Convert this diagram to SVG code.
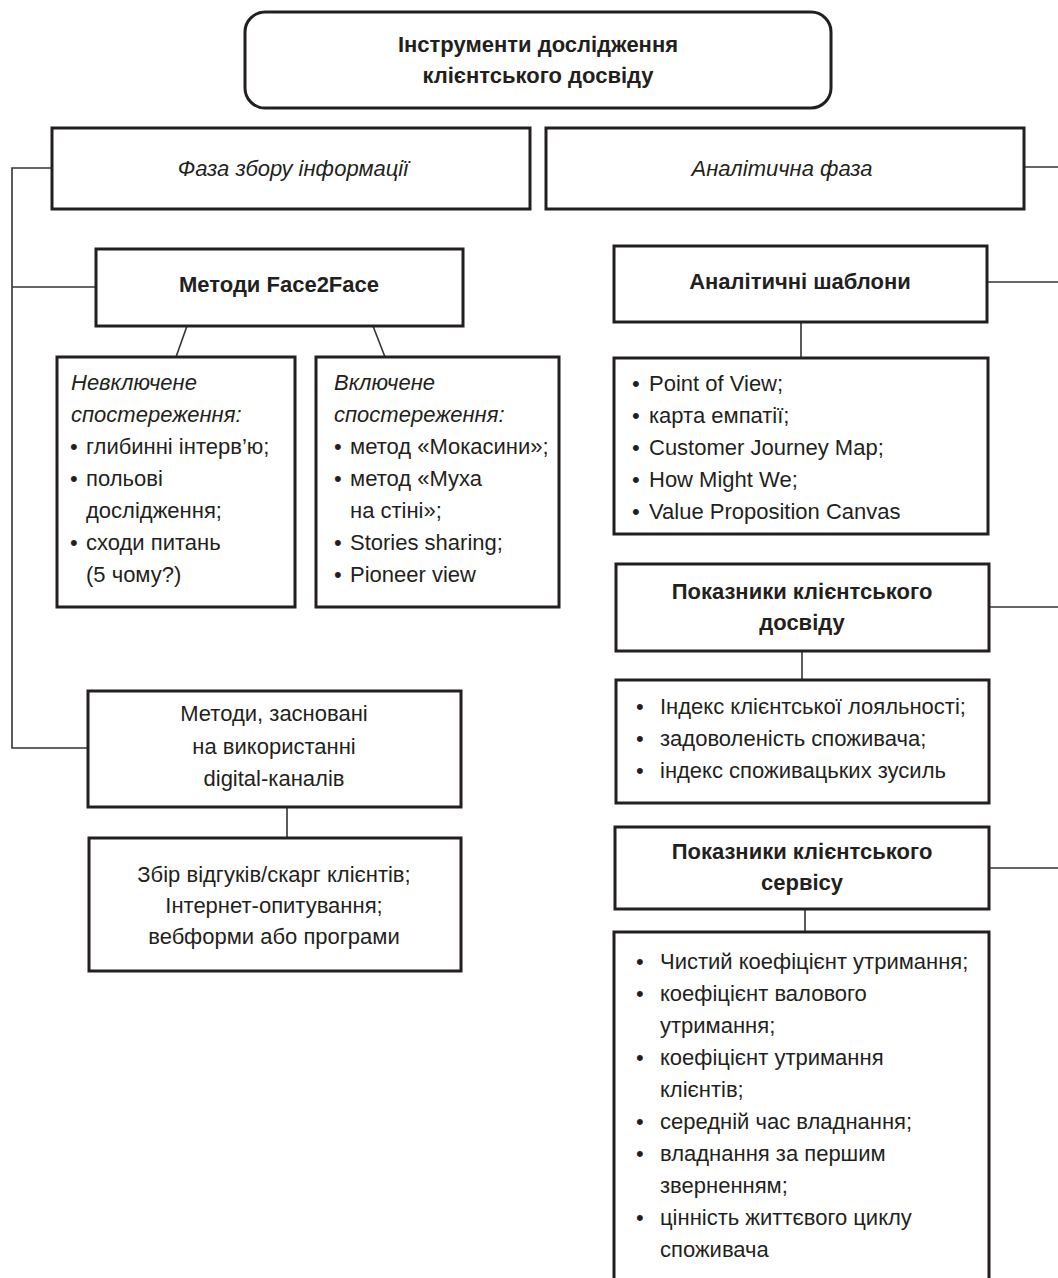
<svg xmlns="http://www.w3.org/2000/svg" width="1058" height="1278" viewBox="0 0 1058 1278">
<style>
.box{fill:#fff;stroke:#231f20;stroke-width:3}
.con{fill:none;stroke:#333;stroke-width:1.6}
text{font-family:"Liberation Sans",Arial,sans-serif;fill:#231f20}
.b{font-size:22px;font-weight:bold;text-anchor:middle}
.it{font-size:22px;font-style:italic}
.itc{font-size:22px;font-style:italic;text-anchor:middle}
.r{font-size:22px}
.rc{font-size:22px;text-anchor:middle}
</style>
<rect width="1058" height="1278" fill="#fff"/>
<g id="connectors">
<polyline class="con" points="52,168 12,168 12,748 88,748"/>
<line class="con" x1="12" y1="287" x2="96" y2="287"/>
<line class="con" x1="187" y1="326" x2="176" y2="357"/>
<line class="con" x1="373" y1="326" x2="385" y2="357"/>
<line class="con" x1="287" y1="807" x2="287" y2="838"/>
<line class="con" x1="1024" y1="167" x2="1058" y2="167"/>
<line class="con" x1="987" y1="282" x2="1058" y2="282"/>
<line class="con" x1="801" y1="322" x2="801" y2="358"/>
<line class="con" x1="989" y1="607" x2="1058" y2="607"/>
<line class="con" x1="802" y1="651" x2="802" y2="680"/>
<line class="con" x1="989" y1="868" x2="1058" y2="868"/>
<line class="con" x1="805" y1="909" x2="805" y2="932"/>
</g>
<g id="root">
<rect class="box" x="245" y="12" width="586" height="96" rx="20"/>
<text class="b" x="538" y="52">Інструменти дослідження</text>
<text class="b" x="538" y="83">клієнтського досвіду</text>
</g>
<g id="phase-collect">
<rect class="box" x="52" y="128" width="478" height="81"/>
<text class="itc" x="293" y="176">Фаза збору інформації</text>
</g>
<g id="phase-analytic">
<rect class="box" x="546" y="128" width="478" height="81"/>
<text class="itc" x="782" y="176">Аналітична фаза</text>
</g>
<g id="face2face">
<rect class="box" x="96" y="249" width="367" height="77"/>
<text class="b" x="279" y="292">Методи Face2Face</text>
</g>
<g id="non-participant">
<rect class="box" x="57" y="357" width="238" height="250"/>
<text class="it" x="71" y="390">Невключене</text>
<text class="it" x="71" y="422">спостереження:</text>
<text class="r" x="70" y="454">•</text><text class="r" x="86" y="454">глибинні інтерв’ю;</text>
<text class="r" x="70" y="486">•</text><text class="r" x="86" y="486">польові</text>
<text class="r" x="86" y="518">дослідження;</text>
<text class="r" x="70" y="550">•</text><text class="r" x="86" y="550">сходи питань</text>
<text class="r" x="86" y="582">(5 чому?)</text>
</g>
<g id="participant">
<rect class="box" x="316" y="357" width="243" height="250"/>
<text class="it" x="334" y="390">Включене</text>
<text class="it" x="334" y="422">спостереження:</text>
<text class="r" x="334" y="454">•</text><text class="r" x="350" y="454">метод «Мокасини»;</text>
<text class="r" x="334" y="486">•</text><text class="r" x="350" y="486">метод «Муха</text>
<text class="r" x="350" y="518">на стіні»;</text>
<text class="r" x="334" y="550">•</text><text class="r" x="350" y="550">Stories sharing;</text>
<text class="r" x="334" y="582">•</text><text class="r" x="350" y="582">Pioneer view</text>
</g>
<g id="digital">
<rect class="box" x="88" y="691" width="373" height="116"/>
<text class="rc" x="274" y="721">Методи, засновані</text>
<text class="rc" x="274" y="754">на використанні</text>
<text class="rc" x="274" y="786">digital-каналів</text>
</g>
<g id="digital-list">
<rect class="box" x="89" y="838" width="372" height="133"/>
<text class="rc" x="274" y="882">Збір відгуків/скарг клієнтів;</text>
<text class="rc" x="274" y="913">Інтернет-опитування;</text>
<text class="rc" x="274" y="944">вебформи або програми</text>
</g>
<g id="templates">
<rect class="box" x="614" y="246" width="373" height="76"/>
<text class="b" x="800" y="289">Аналітичні шаблони</text>
</g>
<g id="templates-list">
<rect class="box" x="614" y="358" width="374" height="176"/>
<text class="r" x="632" y="391">•</text><text class="r" x="649" y="391">Point of View;</text>
<text class="r" x="632" y="423">•</text><text class="r" x="649" y="423">карта емпатії;</text>
<text class="r" x="632" y="455">•</text><text class="r" x="649" y="455">Customer Journey Map;</text>
<text class="r" x="632" y="487">•</text><text class="r" x="649" y="487">How Might We;</text>
<text class="r" x="632" y="519">•</text><text class="r" x="649" y="519">Value Proposition Canvas</text>
</g>
<g id="cx-metrics">
<rect class="box" x="616" y="564" width="373" height="87"/>
<text class="b" x="802" y="599">Показники клієнтського</text>
<text class="b" x="802" y="630">досвіду</text>
</g>
<g id="cx-list">
<rect class="box" x="616" y="680" width="373" height="123"/>
<text class="r" x="636" y="714">•</text><text class="r" x="660" y="714">Індекс клієнтської лояльності;</text>
<text class="r" x="636" y="746">•</text><text class="r" x="660" y="746">задоволеність споживача;</text>
<text class="r" x="636" y="778">•</text><text class="r" x="660" y="778">індекс споживацьких зусиль</text>
</g>
<g id="service-metrics">
<rect class="box" x="615" y="827" width="374" height="82"/>
<text class="b" x="802" y="859">Показники клієнтського</text>
<text class="b" x="802" y="890">сервісу</text>
</g>
<g id="service-list">
<path class="box" d="M614,1280 L614,932 L989,932 L989,1280"/>
<text class="r" x="636" y="969">•</text><text class="r" x="660" y="969">Чистий коефіцієнт утримання;</text>
<text class="r" x="636" y="1001">•</text><text class="r" x="660" y="1001">коефіцієнт валового</text>
<text class="r" x="660" y="1033">утримання;</text>
<text class="r" x="636" y="1065">•</text><text class="r" x="660" y="1065">коефіцієнт утримання</text>
<text class="r" x="660" y="1097">клієнтів;</text>
<text class="r" x="636" y="1129">•</text><text class="r" x="660" y="1129">середній час владнання;</text>
<text class="r" x="636" y="1161">•</text><text class="r" x="660" y="1161">владнання за першим</text>
<text class="r" x="660" y="1193">зверненням;</text>
<text class="r" x="636" y="1225">•</text><text class="r" x="660" y="1225">цінність життєвого циклу</text>
<text class="r" x="660" y="1257">споживача</text>
</g>
</svg>
